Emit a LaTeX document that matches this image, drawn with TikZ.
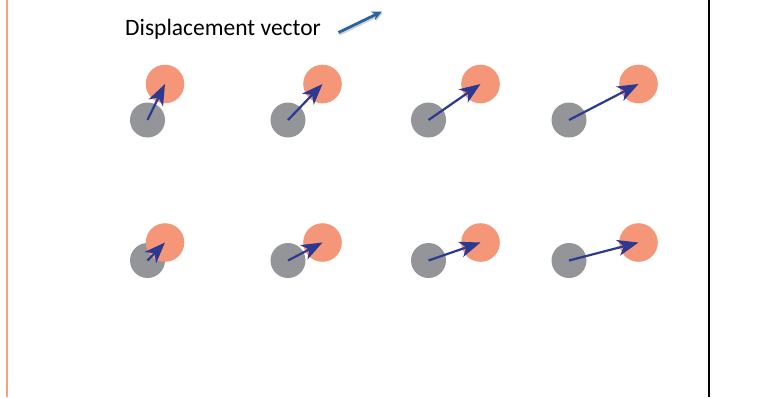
\documentclass[tikz,border=0pt]{standalone}
\usepackage{fontspec}
\setmainfont{Carlito}
\usetikzlibrary{arrows.meta}
\definecolor{dispGrey}{HTML}{939598}
\definecolor{dispOrange}{HTML}{F69679}
\definecolor{dispBlue}{HTML}{2B3990}
\definecolor{dispSteel}{HTML}{2B62A0}
\definecolor{dispEdge}{HTML}{F5A07F}

\begin{document}
\begin{tikzpicture}[x=1pt, y=-1pt,
  site/.style={circle, inner sep=0pt, minimum size=35pt, fill=dispGrey},
  shifted/.style={circle, inner sep=0pt, minimum size=38.6pt, fill=dispOrange},
  dispvec/.style={dispBlue, line width=2.2pt, -{Stealth[length=21pt, width=16pt, inset=6pt]}}]

\useasboundingbox (0,0) rectangle (784,397);

% --- FRAME LINES ---
\draw[dispEdge, line width=2.2pt] (7,0) -- (7,397);
\draw[black, line width=2.2pt] (709,0) -- (709,397);

% --- LEGEND ---
\node[anchor=base west, inner sep=0pt, font=\fontsize{23.5}{28}\selectfont]
  (legtext) at (125,35) {Displacement vector};
\coordinate (legA) at (338.5,32.5);
\coordinate (legB) at (382,11.5);
\draw[black!18, line width=3pt, -{Stealth[length=10pt, width=9pt]}]
  ([shift={(0.8,1.6)}]legA) -- ([shift={(0.8,1.6)}]legB);
\draw[dispSteel, line width=2.8pt, -{Stealth[length=10pt, width=9pt]}]
  (legA) -- (legB);

% --- ROW 1 (top) ---
\foreach \gx/\ox [count=\i] in {147.5/165, 288/322.5, 428.5/480.5, 569/638.5} {
  \node[site] (gA\i) at (\gx,120) {};
  \node[shifted] (oA\i) at (\ox,84) {};
  \draw[dispvec] (gA\i.center) -- (oA\i.center);
}

% --- ROW 2 (bottom) ---
\foreach \gx/\ox [count=\i] in {147.5/165, 288/322.5, 428.5/480.5, 569/638.5} {
  \node[site] (gB\i) at (\gx,260.5) {};
  \node[shifted] (oB\i) at (\ox,242.5) {};
  \draw[dispvec] (gB\i.center) -- (oB\i.center);
}

\end{tikzpicture}
\end{document}
